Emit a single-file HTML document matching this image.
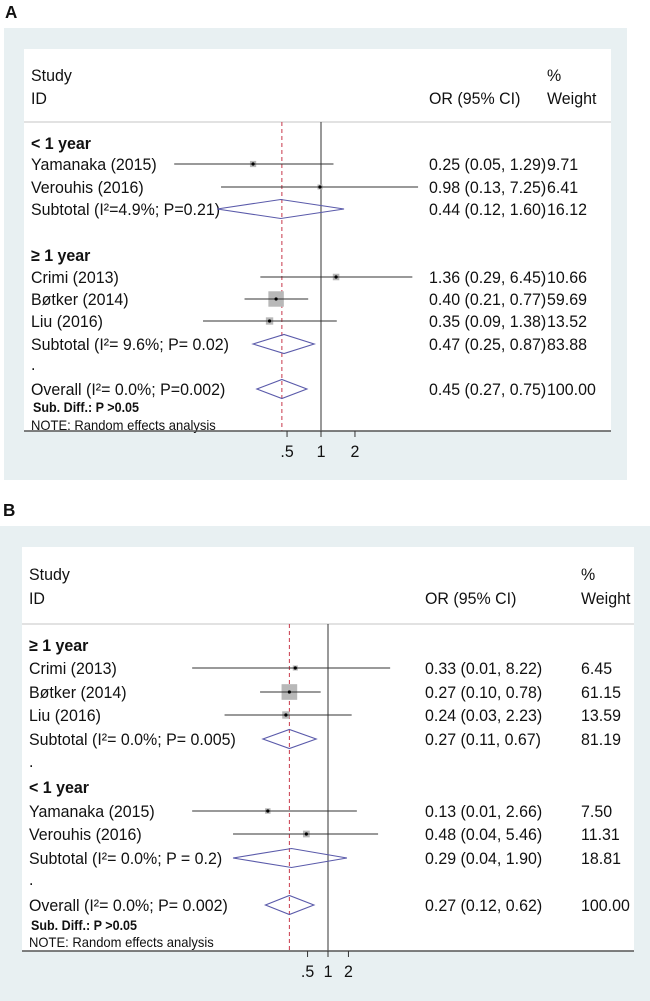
<!DOCTYPE html>
<html><head><meta charset="utf-8"><style>
html,body{margin:0;padding:0;background:#fff;width:650px;height:1001px;overflow:hidden}
svg{display:block}
text{font-family:"Liberation Sans",Arial,sans-serif;fill:#111}
</style></head><body>
<svg id="chart" width="650" height="1001" viewBox="0 0 650 1001" xmlns="http://www.w3.org/2000/svg"></svg>
<script>
// Panel A data
const aLabels = ["Yamanaka (2015)","Verouhis (2016)","Subtotal  (I²=4.9%; P=0.21)","Crimi (2013)","Bøtker (2014)","Liu (2016)","Subtotal  (I²= 9.6%; P= 0.02)","Overall  (I²= 0.0%; P=0.002)"];
const aType = ["study","study","sub","study","study","study","sub","sub"];
const aOR = [0.25,0.98,0.44,1.36,0.40,0.35,0.47,0.45];
const aLow = [0.05,0.13,0.12,0.29,0.21,0.09,0.25,0.27];
const aHigh = [1.29,7.25,1.60,6.45,0.77,1.38,0.87,0.75];
const aWeight = [9.71,6.41,16.12,10.66,59.69,13.52,83.88,100.00];
const aCI = ["0.25 (0.05, 1.29)","0.98 (0.13, 7.25)","0.44 (0.12, 1.60)","1.36 (0.29, 6.45)","0.40 (0.21, 0.77)","0.35 (0.09, 1.38)","0.47 (0.25, 0.87)","0.45 (0.27, 0.75)"];
const aWtxt = ["9.71","6.41","16.12","10.66","59.69","13.52","83.88","100.00"];
const aGroups = ["< 1 year","≥ 1 year"];
const aTicks = [0.5,1,2];
const aTickLabels = [".5","1","2"];
// Panel B data
const bLabels = ["Crimi (2013)","Bøtker (2014)","Liu (2016)","Subtotal  (I²= 0.0%; P= 0.005)","Yamanaka (2015)","Verouhis (2016)","Subtotal  (I²= 0.0%; P = 0.2)","Overall  (I²= 0.0%; P= 0.002)"];
const bType = ["study","study","study","sub","study","study","sub","sub"];
const bOR = [0.33,0.27,0.24,0.27,0.13,0.48,0.29,0.27];
const bLow = [0.01,0.10,0.03,0.11,0.01,0.04,0.04,0.12];
const bHigh = [8.22,0.78,2.23,0.67,2.66,5.46,1.90,0.62];
const bWeight = [6.45,61.15,13.59,81.19,7.50,11.31,18.81,100.00];
const bCI = ["0.33 (0.01, 8.22)","0.27 (0.10, 0.78)","0.24 (0.03, 2.23)","0.27 (0.11, 0.67)","0.13 (0.01, 2.66)","0.48 (0.04, 5.46)","0.29 (0.04, 1.90)","0.27 (0.12, 0.62)"];
const bWtxt = ["6.45","61.15","13.59","81.19","7.50","11.31","18.81","100.00"];
const bGroups = ["≥ 1 year","< 1 year"];
const bTicks = [0.5,1,2];
const bTickLabels = [".5","1","2"];

const NS="http://www.w3.org/2000/svg";
const svg=document.getElementById('chart');
function mk(tag,attrs,parent,txt){const e=document.createElementNS(NS,tag);for(const k in attrs)e.setAttribute(k,attrs[k]);if(txt!==undefined)e.textContent=txt;(parent||svg).appendChild(e);return e;}
function tx(parent,x,y,size,str,sx,bold,anchor){
  const a={x:0,y:0,'font-size':size,transform:`translate(${x},${y}) scale(${sx},1)`};
  if(bold)a['font-weight']='bold';
  if(anchor)a['text-anchor']=anchor;
  return mk('text',a,parent,str);
}

function panel(P){
  const g=mk('g',{});
  
  
  const x=v=>P.x1+P.k*Math.log(v);
  let t=tx(g,P.letterX,P.letterY,18,P.letter,0.95,true);
  
  let r=mk('rect',{x:P.bg[0],y:P.bg[1],width:P.bg[2],height:P.bg[3],fill:'#e8f0f2'},g);
  
  r=mk('rect',{x:P.plot[0],y:P.plot[1],width:P.plot[2],height:P.axisY-P.plot[1],fill:'#fff'},g);
  
  const fs=17, sx=0.94;
  const hdr=[["Study",P.labX,P.studyY],["ID",P.labX,P.idY],["%",P.wX,P.studyY],["Weight",P.wX,P.idY],["OR (95% CI)",P.ciX,P.idY]];
  hdr.forEach(h=>{const e=tx(g,h[1],h[2]+6,fs,h[0],sx);});
  let l=mk('line',{x1:P.plot[0],x2:P.plot[0]+P.plot[2],y1:P.hdrLine,y2:P.hdrLine,stroke:'#d8d8d8','stroke-width':1.5},g);
  
  l=mk('line',{x1:x(1),x2:x(1),y1:P.hdrLine,y2:P.axisY,stroke:'#333','stroke-width':1},g);
  
  l=mk('line',{x1:x(P.OR[7]),x2:x(P.OR[7]),y1:P.hdrLine,y2:P.axisY,stroke:'#c8384a','stroke-width':1,'stroke-dasharray':'4,3'},g);
  
  P.groupY.forEach((gy,i)=>{const e=tx(g,P.labX,gy+6,fs,P.groups[i],sx,true);});
  P.dotY.forEach(dy=>{const e=tx(g,P.labX,dy,fs,'.',sx);});
  P.labels.forEach((lab,i)=>{
    const y=P.rowY[i];
    let e=tx(g,P.labX,y+6,fs,lab,sx);
    
    e=tx(g,P.ciX,y+6,fs,P.ci[i],sx);
    
    e=tx(g,P.wX,y+6,fs,P.wt[i],sx);
    
    if(P.type[i]==='study'){
      const s=2*Math.sqrt(P.W[i]);
      e=mk('rect',{x:x(P.OR[i])-s/2,y:y-s/2,width:s,height:s,fill:'#b8b8b8'},g);
      
      e=mk('line',{x1:x(P.lo[i]),x2:x(P.hi[i]),y1:y,y2:y,stroke:'#333','stroke-width':1},g);
      
      e=mk('circle',{cx:x(P.OR[i]),cy:y,r:1.6,fill:'#000'},g);
      
    } else {
      const h=9.5;
      e=mk('polygon',{points:`${x(P.lo[i])},${y} ${x(P.OR[i])},${y-h} ${x(P.hi[i])},${y} ${x(P.OR[i])},${y+h}`,fill:'none',stroke:'#5a5aaa','stroke-width':1.1},g);
      
    }
  });
  let e=tx(g,P.labX+2,P.subDiffY+5,13.5,'Sub. Diff.: P >0.05',0.93,true);
  
  e=tx(g,P.labX,P.noteY+5,14,'NOTE: Random effects analysis',0.93);
  
  l=mk('line',{x1:P.plot[0],x2:P.plot[0]+P.plot[2],y1:P.axisY,y2:P.axisY,stroke:'#555','stroke-width':1.5},g);
  
  P.ticks.forEach((tv,i)=>{
    let e=mk('line',{x1:x(tv),x2:x(tv),y1:P.axisY,y2:P.axisY+6,stroke:'#333'},g);
    
    e=tx(g,x(tv),P.axisY+26,17,P.tickLabels[i],0.94,false,'middle');
    
  });
}

panel({name:'panel-a',letter:'A',letterX:5,letterY:18,bg:[4,28,623,452],plot:[24,49,587],axisY:431,hdrLine:122,
  studyY:75,idY:98,labX:31,ciX:429,wX:547,x1:321,k:49,
  groupY:[143,255],dotY:[370],rowY:[164,187,209,277,299,321,344,389],subDiffY:407,noteY:425,
  labels:aLabels,type:aType,OR:aOR,lo:aLow,hi:aHigh,W:aWeight,ci:aCI,wt:aWtxt,groups:aGroups,ticks:aTicks,tickLabels:aTickLabels});
panel({name:'panel-b',letter:'B',letterX:3,letterY:516,bg:[0,526,650,475],plot:[22,547,612],axisY:951,hdrLine:624,
  studyY:574,idY:598,labX:29,ciX:425,wX:581,x1:328,k:29.5,
  groupY:[645,787],dotY:[767,885],rowY:[668,692,715,739,811,834,858,905],subDiffY:925,noteY:942,
  labels:bLabels,type:bType,OR:bOR,lo:bLow,hi:bHigh,W:bWeight,ci:bCI,wt:bWtxt,groups:bGroups,ticks:bTicks,tickLabels:bTickLabels});
</script>
</body></html>
